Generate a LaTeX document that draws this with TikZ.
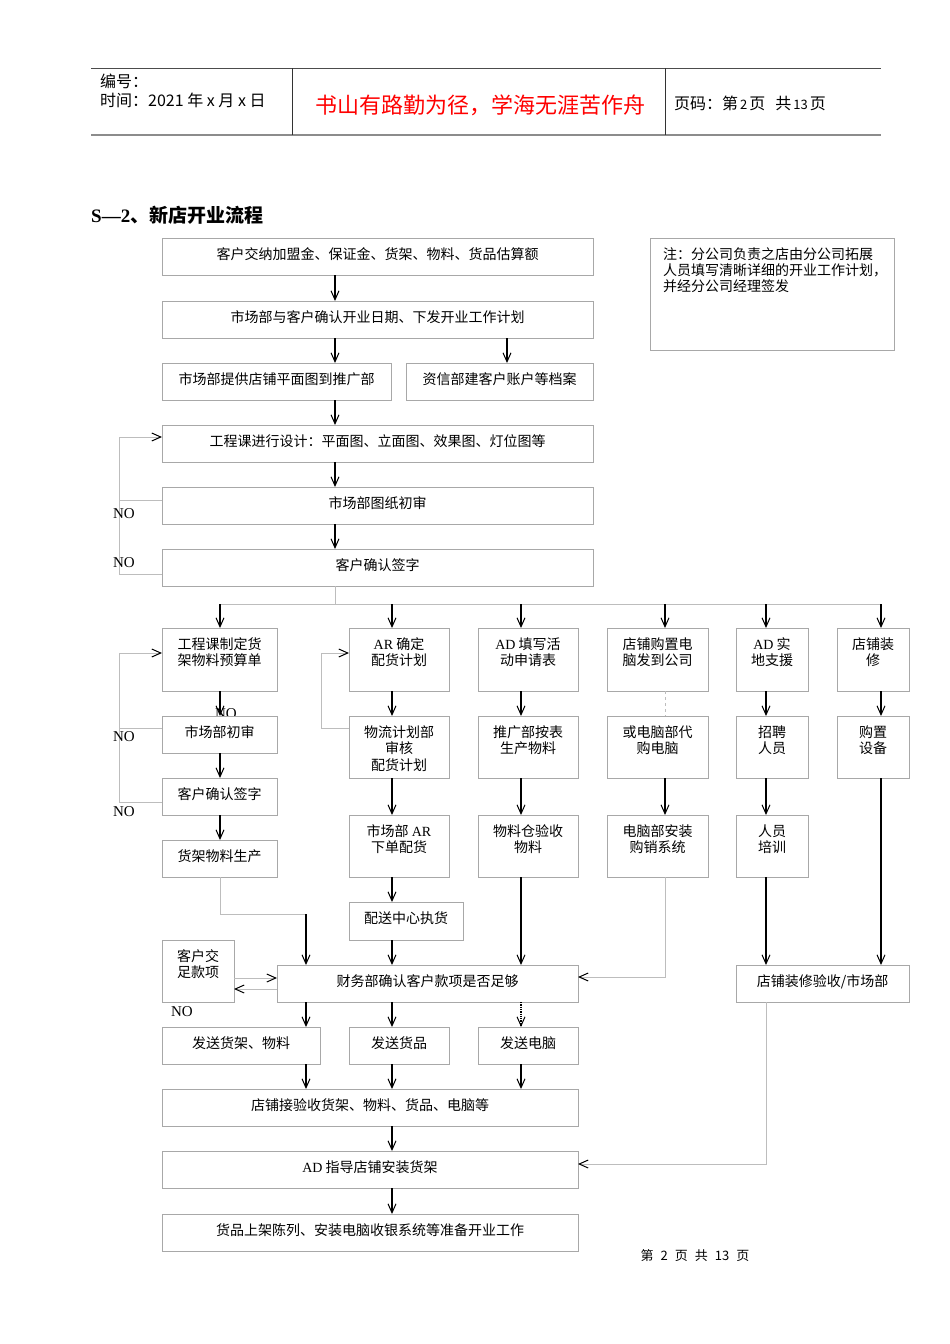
\documentclass[tikz,border=0pt]{standalone}
\usepackage{fontspec}
\setmainfont{Noto Sans CJK SC}
\newfontfamily\lat{Liberation Serif}
\usetikzlibrary{arrows.meta}
\definecolor{bgray}{HTML}{A8A8A8}
\definecolor{lgray}{HTML}{BDBDBD}
\newcommand\bx[6]{\node[boxst, name=#1, anchor=north west] at (#2,#3) {\parbox[t][\dimexpr #5pt-#3pt\relax][t]{\dimexpr #4pt-#2pt\relax}{\centering\fontsize{14pt}{16.5pt}\selectfont\rule{0pt}{21pt}#6}};}
\begin{document}
\begin{tikzpicture}[x=1pt,y=-1pt,
 boxst/.style={draw=bgray, line width=0.8pt, fill=white, inner sep=0pt, outer sep=0pt},
 arr/.style={line width=1.3pt, -{Straight Barb[length=9pt,width=8pt,line width=1pt]}},
 garr/.style={draw=lgray, line width=0.8pt, -{Straight Barb[length=9pt,width=8pt,line width=1pt,color=black]}},
 gline/.style={draw=lgray, line width=0.8pt},
 nolab/.style={font=\lat\fontsize{15pt}{15pt}\selectfont, inner sep=0pt},
 htxt/.style={anchor=west, inner sep=0pt, font=\fontsize{16pt}{16pt}\selectfont}]
\useasboundingbox (0,0) rectangle (950,1344);
\fill[white] (0,0) rectangle (950,1344);
% header
\draw[draw=black!70, line width=0.8pt] (91,68) -- (881,68);
\draw[draw=black!45, line width=1.6pt] (91,135) -- (881,135);
\draw[draw=black!80, line width=0.8pt] (292,68) -- (292,135);
\draw[draw=black!80, line width=0.8pt] (665,68) -- (665,135);
\node[htxt] (hno) at (100,81) {编号：};
\node[htxt] (htime) at (100,100) {时间：2021 年 x 月 x 日};
\node[text=red, inner sep=0pt, font=\fontsize{22pt}{22pt}\selectfont] (hmotto) at (480,105) {书山有路勤为径，学海无涯苦作舟};
\node[htxt] (hpage) at (674,103) {页码：第\hspace{2pt}{\fontsize{13pt}{13pt}\selectfont 2}\hspace{2pt}页\hspace{10pt}共\hspace{2pt}{\fontsize{13pt}{13pt}\selectfont 13}\hspace{2pt}页};
% title
\node[anchor=west, inner sep=0pt, font=\bfseries\fontsize{19pt}{19pt}\selectfont] (title) at (91,215) {{\lat\bfseries S—2}、新店开业流程};
% x / y helper coordinates
\coordinate (x119) at (119,0);
\coordinate (x220) at (220,0);
\coordinate (x306) at (306,0);
\coordinate (x321) at (321,0);
\coordinate (x335) at (335,0);
\coordinate (x392) at (392,0);
\coordinate (x507) at (507,0);
\coordinate (x521) at (521,0);
\coordinate (x665) at (665,0);
\coordinate (x766) at (766,0);
\coordinate (x881) at (881,0);
\coordinate (y437) at (0,437);
\coordinate (y500) at (0,500);
\coordinate (y574) at (0,574);
\coordinate (y604) at (0,604);
\coordinate (y653) at (0,653);
\coordinate (y728) at (0,728);
\coordinate (y802) at (0,802);
\coordinate (y914) at (0,914);
\coordinate (y977) at (0,977);
\coordinate (y978) at (0,978);
\coordinate (y989) at (0,989);
\coordinate (y1164) at (0,1164);
% hidden NO label under box
\node[nolab] (no3) at (226,714) {NO};
% boxes
\bx{B1}{162}{238}{593}{275}{客户交纳加盟金、保证金、货架、物料、货品估算额}
\bx{B2}{162}{301}{593}{338}{市场部与客户确认开业日期、下发开业工作计划}
\bx{B3a}{162}{363}{391}{400}{市场部提供店铺平面图到推广部}
\bx{B3b}{406}{363}{593}{400}{资信部建客户账户等档案}
\bx{B4}{162}{425}{593}{462}{工程课进行设计：平面图、立面图、效果图、灯位图等}
\bx{B5}{162}{487}{593}{524}{市场部图纸初审}
\bx{B6}{162}{549}{593}{586}{客户确认签字}
\node[boxst, anchor=north west] (note) at (650,238) {\parbox[t][112pt][t]{244pt}{\fontsize{14pt}{16pt}\selectfont\leftskip=13pt\rule{0pt}{21pt}注：分公司负责之店由分公司拓展\\人员填写清晰详细的开业工作计划，\\并经分公司经理签发}};
\bx{C1}{162}{628}{277}{691}{工程课制定货\\架物料预算单}
\bx{C2}{349}{628}{449}{691}{{\lat AR} 确定\\配货计划}
\bx{C3}{478}{628}{578}{691}{{\lat AD} 填写活\\动申请表}
\bx{C4}{607}{628}{708}{691}{店铺购置电\\脑发到公司}
\bx{C5}{736}{628}{808}{691}{{\lat AD} 实\\地支援}
\bx{C6}{837}{628}{909}{691}{店铺装\\修}
\bx{C1b}{162}{716}{277}{753}{市场部初审}
\bx{C2b}{349}{716}{449}{778}{物流计划部\\审核\\配货计划}
\bx{C3b}{478}{716}{578}{778}{推广部按表\\生产物料}
\bx{C4b}{607}{716}{708}{778}{或电脑部代\\购电脑}
\bx{C5b}{736}{716}{808}{778}{招聘\\人员}
\bx{C6b}{837}{716}{909}{778}{购置\\设备}
\bx{C1c}{162}{778}{277}{815}{客户确认签字}
\bx{C1d}{162}{840}{277}{877}{货架物料生产}
\bx{C2c}{349}{815}{449}{877}{市场部 {\lat AR}\\下单配货}
\bx{C3c}{478}{815}{578}{877}{物料仓验收\\物料}
\bx{C4c}{607}{815}{708}{877}{电脑部安装\\购销系统}
\bx{C5c}{736}{815}{808}{877}{人员\\培训}
\bx{C2d}{349}{902}{463}{940}{配送中心执货}
\bx{Pay}{162}{940}{234}{1002}{客户交\\足款项}
\bx{Fin}{277}{965}{578}{1002}{财务部确认客户款项是否足够}
\bx{Reno}{736}{965}{909}{1002}{店铺装修验收/市场部}
\bx{S1}{162}{1027}{320}{1064}{发送货架、物料}
\bx{S2}{349}{1027}{449}{1064}{发送货品}
\bx{S3}{478}{1027}{578}{1064}{发送电脑}
\bx{R1}{162}{1089}{578}{1126}{店铺接验收货架、物料、货品、电脑等}
\bx{R2}{162}{1151}{578}{1188}{{\lat AD} 指导店铺安装货架}
\bx{R3}{162}{1214}{578}{1251}{货品上架陈列、安装电脑收银系统等准备开业工作}
% main column
\draw[arr] (B1.south -| x335) -- (B2.north -| x335);
\draw[arr] (B2.south -| x335) -- (B3a.north -| x335);
\draw[arr] (B2.south -| x507) -- (B3b.north -| x507);
\draw[arr] (B3a.south -| x335) -- (B4.north -| x335);
\draw[arr] (B4.south -| x335) -- (B5.north -| x335);
\draw[arr] (B5.south -| x335) -- (B6.north -| x335);
\draw[gline] (B5.west |- y500) -- (x119 |- y500);
\draw[garr] (B6.west |- y574) -- (x119 |- y574) -- (x119 |- y437) -- (B4.west |- y437);
\node[nolab] (no1) at (124,514) {NO};
\node[nolab] (no2) at (124,563) {NO};
% distribution
\draw[gline] (B6.south -| x335) -- (x335 |- y604);
\draw[gline] (x220 |- y604) -- (x881 |- y604);
\draw[arr] (x220 |- y604) -- (C1.north -| x220);
\draw[arr] (x392 |- y604) -- (C2.north -| x392);
\draw[arr] (x521 |- y604) -- (C3.north -| x521);
\draw[arr] (x665 |- y604) -- (C4.north -| x665);
\draw[arr] (x766 |- y604) -- (C5.north -| x766);
\draw[arr] (x881 |- y604) -- (C6.north -| x881);
% column 1
\draw[arr] (C1.south -| x220) -- (C1b.north -| x220);
\draw[arr] (C1b.south -| x220) -- (C1c.north -| x220);
\draw[arr] (C1c.south -| x220) -- (C1d.north -| x220);
\draw[gline] (C1b.west |- y728) -- (x119 |- y728);
\draw[garr] (C1c.west |- y802) -- (x119 |- y802) -- (x119 |- y653) -- (C1.west |- y653);
\node[nolab] (no4) at (124,737) {NO};
\node[nolab] (no5) at (124,812) {NO};
\draw[gline] (C1d.south -| x220) -- (x220 |- y914) -- (x306 |- y914);
\draw[arr] (x306 |- y914) -- (Fin.north -| x306);
% column 2
\draw[arr] (C2.south -| x392) -- (C2b.north -| x392);
\draw[garr] (C2b.west |- y728) -- (x321 |- y728) -- (x321 |- y653) -- (C2.west |- y653);
\draw[arr] (C2b.south -| x392) -- (C2c.north -| x392);
\draw[arr] (C2c.south -| x392) -- (C2d.north -| x392);
\draw[arr] (C2d.south -| x392) -- (Fin.north -| x392);
% column 3
\draw[arr] (C3.south -| x521) -- (C3b.north -| x521);
\draw[arr] (C3b.south -| x521) -- (C3c.north -| x521);
\draw[arr] (C3c.south -| x521) -- (Fin.north -| x521);
% column 4
\draw[gline, dashed] (C4.south -| x665) -- (C4b.north -| x665);
\draw[arr] (C4b.south -| x665) -- (C4c.north -| x665);
\draw[garr] (C4c.south -| x665) -- (x665 |- y977) -- (Fin.east |- y977);
% column 5 and 6
\draw[arr] (C5.south -| x766) -- (C5b.north -| x766);
\draw[arr] (C5b.south -| x766) -- (C5c.north -| x766);
\draw[arr] (C5c.south -| x766) -- (Reno.north -| x766);
\draw[arr] (C6.south -| x881) -- (C6b.north -| x881);
\draw[arr] (C6b.south -| x881) -- (Reno.north -| x881);
\draw[garr] (Reno.south -| x766) -- (x766 |- y1164) -- (R2.east |- y1164);
% payment loop
\draw[garr] (Pay.east |- y978) -- (Fin.west |- y978);
\draw[garr] (Fin.west |- y989) -- (Pay.east |- y989);
\node[nolab] (no6) at (182,1012) {NO};
% sending
\draw[arr] (Fin.south -| x306) -- (S1.north -| x306);
\draw[arr] (Fin.south -| x392) -- (S2.north -| x392);
\draw[arr, densely dotted] (Fin.south -| x521) -- (S3.north -| x521);
\draw[arr] (S1.south -| x306) -- (R1.north -| x306);
\draw[arr] (S2.south -| x392) -- (R1.north -| x392);
\draw[arr] (S3.south -| x521) -- (R1.north -| x521);
\draw[arr] (R1.south -| x392) -- (R2.north -| x392);
\draw[arr] (R2.south -| x392) -- (R3.north -| x392);
% footer
\node[inner sep=0pt, font=\fontsize{13pt}{13pt}\selectfont] (foot) at (695,1256) {第\hspace{7pt}2\hspace{7pt}页\hspace{7pt}共\hspace{7pt}13\hspace{7pt}页};
\end{tikzpicture}
\end{document}
